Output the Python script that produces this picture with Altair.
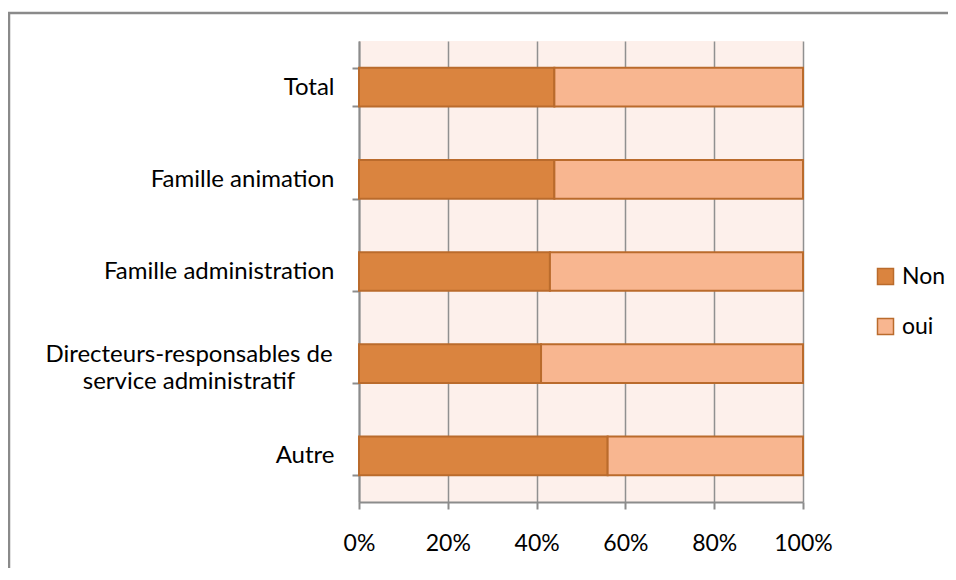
import altair as alt
import pandas as pd

categories = [
    "Total",
    "Famille animation",
    "Famille administration",
    "Directeurs-responsables de\nservice administratif",
    "Autre",
]
non_values = [44, 44, 43, 41, 56]
oui_values = [56, 56, 57, 59, 44]
series = ["Non", "oui"]
colors = ["#DA843F", "#F8B690"]
x_ticks = [0, 0.2, 0.4, 0.6, 0.8, 1.0]

rows = []
for c, n, o in zip(categories, non_values, oui_values):
    rows.append({"cat": c, "serie": "Non", "val": n, "ord": 0})
    rows.append({"cat": c, "serie": "oui", "val": o, "ord": 1})
df = pd.DataFrame(rows)
multi_df = pd.DataFrame({"cat": [c for c in categories if "\n" in c]})

FONT = "Lato"
FS = 23
FSY = 24
GRAY = "#8C8C8C"

y_enc = alt.Y(
    "cat:N",
    sort=categories,
    title=None,
    scale=alt.Scale(paddingInner=0.58, paddingOuter=0.29),
    axis=alt.Axis(
        labelExpr="indexof(datum.label, 'Directeurs') >= 0 ? '' : datum.label",
        tickBand="extent",
        tickSize=7,
        tickColor=GRAY,
        tickWidth=2,
        domainColor=GRAY,
        domainWidth=2,
        labelPadding=18,
        labelFontSize=FSY,
        labelFont=FONT,
        labelColor="#000000",
        grid=False,
        labelLimit=400,
    ),
)

bars = alt.Chart(df).mark_bar(stroke="#BA6B2C", strokeWidth=2).encode(
    y=y_enc,
    x=alt.X(
        "val:Q",
        stack="normalize",
        title=None,
        scale=alt.Scale(domain=[0, 1], nice=False),
        axis=alt.Axis(
            values=x_ticks,
            format=".0%",
            tickSize=7,
            tickColor=GRAY,
            tickWidth=2,
            domainColor=GRAY,
            domainWidth=2,
            gridColor="#909090",
            gridWidth=1.5,
            labelPadding=23,
            labelFontSize=FS,
            labelFont=FONT,
            labelColor="#000000",
            labelFlush=False,
        ),
    ),
    color=alt.Color(
        "serie:N",
        scale=alt.Scale(domain=series, range=colors),
        legend=alt.Legend(
            title=None,
            orient="none",
            legendX=515,
            legendY=224,
            padding=0,
            symbolType="square",
            symbolSize=256,
            symbolStrokeColor="#BA6B2C",
            symbolStrokeWidth=1.5,
            symbolOpacity=1,
            labelFontSize=FS,
            labelFont=FONT,
            labelColor="#000000",
            labelOffset=5,
            rowPadding=26,
        ),
    ),
    order=alt.Order("ord:Q"),
)

multi_label = alt.Chart(multi_df).mark_text(
    align="center",
    baseline="middle",
    lineBreak="\n",
    lineHeight=27,
    font=FONT,
    fontSize=FSY,
    color="#000000",
    dy=-9,
    clip=False,
).encode(
    y=alt.Y("cat:N", sort=categories),
    x=alt.value(-170),
    text="cat:N",
)

frame = alt.Chart(alt.Data(values=[{}])).mark_rect(
    fill=None, stroke="#8A8A8A", strokeWidth=2.5, clip=False
).encode(
    x=alt.value(-350),
    x2=alt.value(800),
    y=alt.value(-28),
    y2=alt.value(800),
)

chart = alt.layer(frame, bars, multi_label).properties(
    width=444,
    height=461,
    autosize=alt.AutoSizeParams(type="none"),
    padding={"left": 351, "top": 33, "right": 145, "bottom": 66},
    background="#FFFFFF",
).configure_view(
    fill="#FDF0EB", stroke=None
)

chart.save("out.html", embed_options={"renderer": "svg", "actions": False})
